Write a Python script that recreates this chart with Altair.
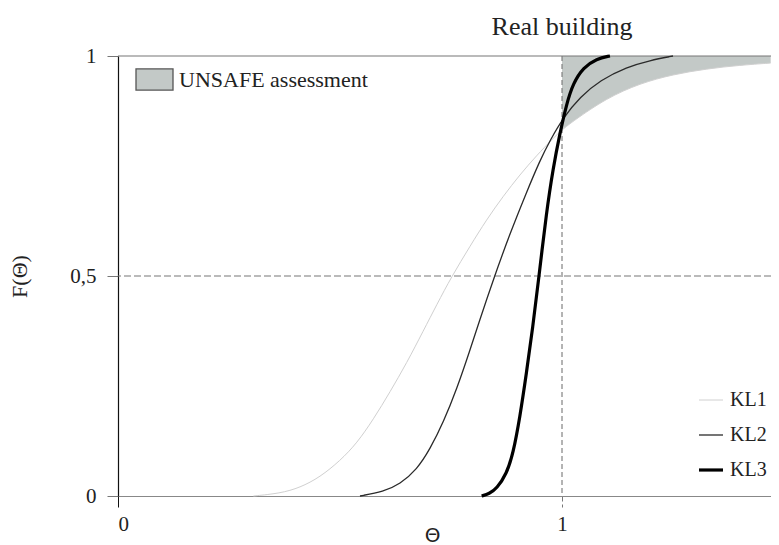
import altair as alt
import pandas as pd

# ---- data ----
kl1_x = [0.305, 0.365, 0.41, 0.455, 0.50, 0.538, 0.575, 0.613, 0.65, 0.688, 0.718, 0.751, 0.793, 0.830, 0.868, 0.905, 0.943, 0.98, 1.0, 1.025, 1.10, 1.176, 1.25, 1.326, 1.40, 1.47]
kl1_y = [0.0, 0.006, 0.019, 0.043, 0.08, 0.12, 0.174, 0.237, 0.302, 0.376, 0.435, 0.498, 0.568, 0.628, 0.682, 0.73, 0.774, 0.813, 0.832, 0.852, 0.904, 0.938, 0.958, 0.971, 0.979, 0.984]

kl2_x = [0.545, 0.598, 0.635, 0.673, 0.703, 0.733, 0.763, 0.793, 0.812, 0.847, 0.883, 0.92, 0.95, 0.973, 1.003, 1.041, 1.086, 1.146, 1.198, 1.25]
kl2_y = [0.0, 0.01, 0.027, 0.06, 0.107, 0.168, 0.243, 0.332, 0.392, 0.497, 0.597, 0.69, 0.762, 0.808, 0.86, 0.907, 0.945, 0.975, 0.99, 1.0]

kl3_x = [0.819, 0.836, 0.853, 0.875, 0.89, 0.905, 0.92, 0.934, 0.948, 0.965, 0.98, 0.995, 1.01, 1.025, 1.048, 1.078, 1.108]
kl3_y = [0.0, 0.005, 0.017, 0.05, 0.097, 0.178, 0.28, 0.382, 0.498, 0.645, 0.745, 0.823, 0.89, 0.938, 0.974, 0.994, 1.0]

series = ["KL1", "KL2", "KL3"]
series_colors = ["#d0d0d0", "#2a2a2a", "#000000"]
series_widths = [1.0, 1.3, 3.2]

x_ticks = [0, 1]
y_ticks = [0, 0.5, 1]
x_max = 1.4707
real_building_x = 1.0
half_level = 0.5
top_level = 1.0
unsafe_label = "UNSAFE assessment"
title_text = "Real building"

SERIF = "Liberation Serif"

# ---- tables ----
rows = []
for name, xs, ys in zip(series, [kl1_x, kl2_x, kl3_x], [kl1_y, kl2_y, kl3_y]):
    for i, (a, b) in enumerate(zip(xs, ys)):
        rows.append({"theta": a, "F": b, "KL": name, "order": i})
lines_df = pd.DataFrame(rows)

area_df = pd.DataFrame({"theta": kl1_x, "F": kl1_y})
area_df = area_df[area_df["theta"] >= real_building_x].copy()
area_df["top"] = top_level
area_df["lab"] = unsafe_label

xscale = alt.Scale(domain=[0, x_max], nice=False, zero=False)
yscale = alt.Scale(domain=[0, 1], nice=False)

xaxis = alt.Axis(
    values=x_ticks, title="Θ", format="~g", labelFont=SERIF, labelFontSize=21, labelColor="#222",
    labelPadding=6, tickSize=11, grid=False,
    tickColor={"condition": {"test": "datum.value == 0", "value": "#111"}, "value": "#777"},
    tickDash={"condition": {"test": "datum.value == 1", "value": [5, 3]}, "value": []},
    domainColor="#888", domainWidth=1.2,
    titleFont="DejaVu Sans", titleFontSize=20, titleFontWeight="normal", titleColor="#222",
    titleX=314, titleY=39, titleBaseline="middle",
)
yaxis = alt.Axis(
    values=y_ticks, title="F(Θ)", format="~g", labelExpr="replace(datum.label, '.', ',')",
    labelFont=SERIF, labelFontSize=21, labelColor="#222", labelPadding=11,
    tickSize=11, tickColor="#777", grid=False, domainColor="#111", domainWidth=1.2,
    titleFont=SERIF, titleFontSize=22, titleFontWeight="normal", titleColor="#222",
    titlePadding=38,
)

area = alt.Chart(area_df).mark_area(interpolate="basis", opacity=1).encode(
    x=alt.X("theta:Q", scale=xscale, axis=xaxis),
    y=alt.Y("F:Q", scale=yscale, axis=yaxis),
    y2="top:Q",
    fill=alt.Fill("lab:N", scale=alt.Scale(domain=[unsafe_label], range=["#c3c9c7"]),
                  legend=alt.Legend(title=None, orient="none", legendX=17, legendY=4,
                                    padding=0, symbolType="M-1,-0.57H1V0.57H-1Z",
                                    symbolSize=1369, symbolStrokeColor="#555",
                                    symbolStrokeWidth=1.3, symbolFillColor="#c3c9c7",
                                    symbolOpacity=1, labelLimit=400,
                                    labelFont=SERIF, labelFontSize=22, labelColor="#222",
                                    labelOffset=5)),
)

hrule = alt.Chart(pd.DataFrame({"F": [half_level]})).mark_rule(
    color="#777", strokeDash=[7, 3], strokeWidth=1.1).encode(
    y=alt.Y("F:Q", scale=yscale, axis=yaxis)
)
toprule = alt.Chart(pd.DataFrame({"F": [top_level]})).mark_rule(color="#777", strokeWidth=1.2).encode(
    y=alt.Y("F:Q", scale=yscale, axis=yaxis)
)
vrule = alt.Chart(pd.DataFrame({"theta": [real_building_x]})).mark_rule(
    color="#777", strokeDash=[5, 3], strokeWidth=1.1).encode(
    x=alt.X("theta:Q", scale=xscale, axis=xaxis)
)

width_expr = " : ".join(
    f"datum.value == '{s}' ? {w}" for s, w in zip(series[:-1], series_widths[:-1])
) + f" : {series_widths[-1]}"

line_legend = alt.Legend(
    title=None, orient="none", legendX=583, legendY=334, padding=0,
    symbolType="stroke", symbolSize=576, rowPadding=15,
    labelFont=SERIF, labelFontSize=20, labelColor="#222", labelOffset=9,
    symbolStrokeWidth=alt.ExprRef(expr=width_expr),
)

lines = alt.Chart(lines_df).mark_line(interpolate="basis").encode(
    x=alt.X("theta:Q", scale=xscale, axis=xaxis),
    y=alt.Y("F:Q", scale=yscale, axis=yaxis),
    order="order:Q",
    color=alt.Color("KL:N", scale=alt.Scale(domain=series, range=series_colors), legend=line_legend),
    strokeWidth=alt.StrokeWidth("KL:N", scale=alt.Scale(type="ordinal", domain=series, range=series_widths), legend=None),
)

title = alt.Chart(pd.DataFrame({"theta": [real_building_x], "t": [title_text]})).mark_text(
    font=SERIF, fontSize=26, color="#222", baseline="middle", align="center"
).encode(x=alt.X("theta:Q", scale=xscale, axis=xaxis), y=alt.value(-29), text="t:N")

chart = alt.layer(area, hrule, toprule, vrule, lines, title).resolve_scale(
    color="independent"
).properties(
    width=653, height=440,
    autosize=alt.AutoSizeParams(type="none"),
    padding={"left": 110, "top": 48, "right": 0, "bottom": 49},
).configure_view(stroke=None).configure_text(font=SERIF)

chart.save("out.html", embed_options={"renderer": "svg", "actions": False})
